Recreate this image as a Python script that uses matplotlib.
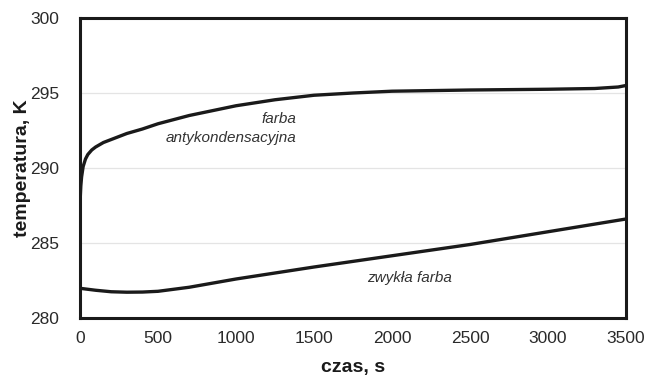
import matplotlib
matplotlib.use("Agg")
import matplotlib.pyplot as plt

plt.rcParams['font.family'] = ['Liberation Sans', 'DejaVu Sans']

# data
t_anti = [0, 5, 10, 20, 35, 50, 75, 100, 150, 200, 300, 400, 500, 700, 1000, 1250, 1500, 1750, 2000, 2500, 3000, 3300, 3450, 3500]
T_anti = [287.7, 288.8, 289.4, 290.1, 290.6, 290.9, 291.2, 291.4, 291.7, 291.9, 292.3, 292.6, 292.95, 293.5, 294.15, 294.55, 294.85, 295.0, 295.12, 295.2, 295.25, 295.3, 295.4, 295.5]

t_plain = [0, 100, 200, 300, 400, 500, 700, 1000, 1500, 2000, 2500, 3000, 3500]
T_plain = [281.98, 281.85, 281.75, 281.72, 281.73, 281.78, 282.05, 282.6, 283.4, 284.15, 284.9, 285.75, 286.6]

x_ticks = [0, 500, 1000, 1500, 2000, 2500, 3000, 3500]
y_ticks = [280, 285, 290, 295, 300]

fig = plt.figure(figsize=(6.48, 3.88), dpi=100)
ax = fig.add_axes([0.1235, 0.1804, 0.8425, 0.7732])

ax.plot(t_anti, T_anti, color='#1a1a1a', lw=2.4, solid_capstyle='butt')
ax.plot(t_plain, T_plain, color='#1a1a1a', lw=2.4, solid_capstyle='butt')

ax.set_xlim(0, 3500)
ax.set_ylim(280, 300)
ax.set_xticks(x_ticks)
ax.set_yticks(y_ticks)
ax.yaxis.grid(True, color='#e4e4e4', lw=0.9)
ax.set_axisbelow(True)
for s in ax.spines.values():
    s.set_linewidth(2.2)
    s.set_color('#1a1a1a')
ax.tick_params(axis='both', length=0, labelsize=12.5, colors='#2a2a2a')
ax.tick_params(axis='y', pad=15)
ax.tick_params(axis='x', pad=9)

ax.set_xlabel('czas, s', fontsize=14, fontweight='bold', color='#1a1a1a', labelpad=10)
ax.set_ylabel('temperatura, K', fontsize=14, fontweight='bold', color='#1a1a1a', labelpad=-1)

ax.text(1390, 293.27, 'farba', ha='right', va='center', style='italic', fontsize=11, color='#333333')
ax.text(1390, 292.0, 'antykondensacyjna', ha='right', va='center', style='italic', fontsize=11, color='#333333')
ax.text(2110, 282.67, 'zwykła farba', ha='center', va='center', style='italic', fontsize=11, color='#333333')

fig.savefig('out.png', dpi=100)
